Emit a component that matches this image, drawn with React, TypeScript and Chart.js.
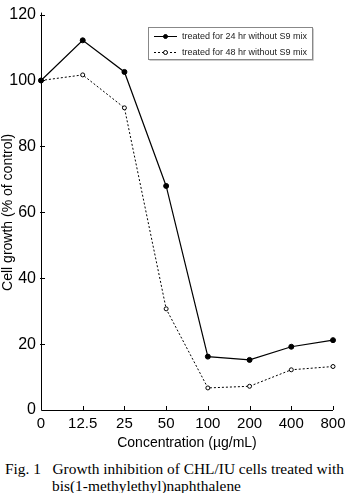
import React, { useEffect, useRef } from "react";
import { Chart, registerables } from "chart.js";

Chart.register(...registerables);

const categories = ["0", "12.5", "25", "50", "100", "200", "400", "800"];
const series24 = [100, 112.2, 102.6, 68, 16.2, 15.2, 19.2, 21.2];
const series48 = [100, 101.7, 91.7, 30.7, 6.7, 7.2, 12.2, 13.2];
const label24 = "treated for 24 hr without S9 mix";
const label48 = "treated for 48 hr without S9 mix";
const yTitle = "Cell growth (% of control)";
const xTitle = "Concentration (\u00b5g/mL)";
const captionLine1 = "Fig. 1\u2002 Growth inhibition of CHL/IU cells treated with";
const captionLine2 = "bis(1-methylethyl)naphthalene";

const FONT = "'Liberation Sans', 'DejaVu Sans', sans-serif";

const tickPlugin = {
  id: "innerTicks",
  afterDraw(chart: any) {
    const ctx = chart.ctx;
    const xs = chart.scales.x;
    const ys = chart.scales.y;
    const area = chart.chartArea;
    ctx.save();
    ctx.strokeStyle = "#000";
    ctx.lineWidth = 1;
    ctx.beginPath();
    ctx.moveTo(area.left + 0.5, area.top - 2);
    ctx.lineTo(area.left + 0.5, area.bottom + 0.5);
    ctx.lineTo(area.right, area.bottom + 0.5);
    ys.ticks.forEach((t: any) => {
      const y = Math.round(ys.getPixelForValue(t.value)) + 0.5;
      if (t.value === 0) return;
      ctx.moveTo(area.left - 1, y);
      ctx.lineTo(area.left + 4, y);
    });
    xs.ticks.forEach((t: any, i: number) => {
      if (i === 0) return;
      const x = Math.round(xs.getPixelForTick(i)) + 0.5;
      ctx.moveTo(x, area.bottom);
      ctx.lineTo(x, area.bottom - 4);
    });
    ctx.stroke();

    const bx = 148.5, by = 27.5, bw = 164, bh = 32;
    ctx.fillStyle = "#fff";
    ctx.fillRect(bx, by, bw, bh);
    ctx.strokeStyle = "#888";
    ctx.strokeRect(bx, by, bw, bh);
    ctx.strokeStyle = "#ccc";
    ctx.beginPath();
    ctx.moveTo(bx + bw + 1, by + 1);
    ctx.lineTo(bx + bw + 1, by + bh + 1);
    ctx.lineTo(bx + 1, by + bh + 1);
    ctx.stroke();

    const rows = [
      { y: 36.5, dash: [], fill: "#000", label: label24 },
      { y: 52.5, dash: [2, 2], fill: "#fff", label: label48 },
    ];
    rows.forEach((r) => {
      ctx.strokeStyle = "#000";
      ctx.lineWidth = 1;
      ctx.setLineDash(r.dash);
      ctx.beginPath();
      ctx.moveTo(154, r.y);
      ctx.lineTo(177, r.y);
      ctx.stroke();
      ctx.setLineDash([]);
      ctx.fillStyle = r.fill;
      ctx.beginPath();
      ctx.arc(165.5, r.y, 2, 0, Math.PI * 2);
      ctx.fill();
      ctx.stroke();
      ctx.fillStyle = "#222";
      ctx.font = `9px ${FONT}`;
      ctx.textBaseline = "middle";
      ctx.textAlign = "left";
      ctx.fillText(r.label, 182, r.y);
    });
    ctx.restore();
  },
};

export default function App() {
  const ref = useRef<HTMLCanvasElement | null>(null);

  useEffect(() => {
    if (!ref.current) return;
    const chart = new Chart(ref.current, {
      type: "line",
      data: {
        labels: categories,
        datasets: [
          {
            label: label24,
            data: series24,
            borderColor: "#000",
            backgroundColor: "#000",
            borderWidth: 1.2,
            pointRadius: 2.5,
            pointBorderWidth: 1,
            pointBackgroundColor: "#000",
            pointBorderColor: "#000",
            tension: 0,
          },
          {
            label: label48,
            data: series48,
            borderColor: "#000",
            backgroundColor: "#fff",
            borderWidth: 1,
            borderDash: [2, 2],
            pointRadius: 2,
            pointBorderWidth: 1,
            pointBackgroundColor: "#fff",
            pointBorderColor: "#000",
            tension: 0,
          },
        ],
      },
      options: {
        animation: false,
        responsive: false,
        maintainAspectRatio: false,
        layout: { padding: { top: 10, right: 0, left: 0, bottom: 0 } },
        plugins: {
          legend: { display: false },
          tooltip: { enabled: false },
        },
        scales: {
          x: {
            type: "category",
            offset: false,
            grid: { display: false, drawTicks: false },
            border: { display: false },
            ticks: {
              color: "#000",
              font: { family: FONT, size: 15 },
              padding: 5,
              maxRotation: 0,
              autoSkip: false,
            },
            title: {
              display: true,
              text: xTitle,
              color: "#000",
              font: { family: FONT, size: 14 },
              padding: { top: 0, bottom: 0 },
            },
            afterFit(scale: any) {
              scale.height = 42;
              scale.paddingRight = 14;
              scale.paddingLeft = 0;
            },
          },
          y: {
            min: 0,
            max: 120,
            grid: { display: false, drawTicks: false },
            border: { display: false },
            ticks: {
              stepSize: 20,
              color: "#000",
              font: { family: FONT, size: 16 },
              padding: 5,
            },
            title: {
              display: true,
              text: yTitle,
              color: "#000",
              font: { family: FONT, size: 14 },
              padding: { top: 0, bottom: 2 },
            },
            afterFit(scale: any) {
              scale.width = 41;
            },
          },
        },
      },
      plugins: [tickPlugin],
    });
    return () => chart.destroy();
  }, []);

  return (
    <div style={{ position: "absolute", left: 0, top: 0, width: 347, height: 493, background: "#fff" }}>
      <canvas ref={ref} width={347} height={452} style={{ display: "block" }} />
      <div
        style={{
          position: "absolute",
          left: 5,
          top: 460,
          fontFamily: "'Liberation Serif', 'DejaVu Serif', serif",
          fontSize: 15.4,
          lineHeight: "17px",
          color: "#000",
          whiteSpace: "nowrap",
        }}
      >
        <div>{captionLine1}</div>
        <div style={{ paddingLeft: 47 }}>{captionLine2}</div>
      </div>
    </div>
  );
}
